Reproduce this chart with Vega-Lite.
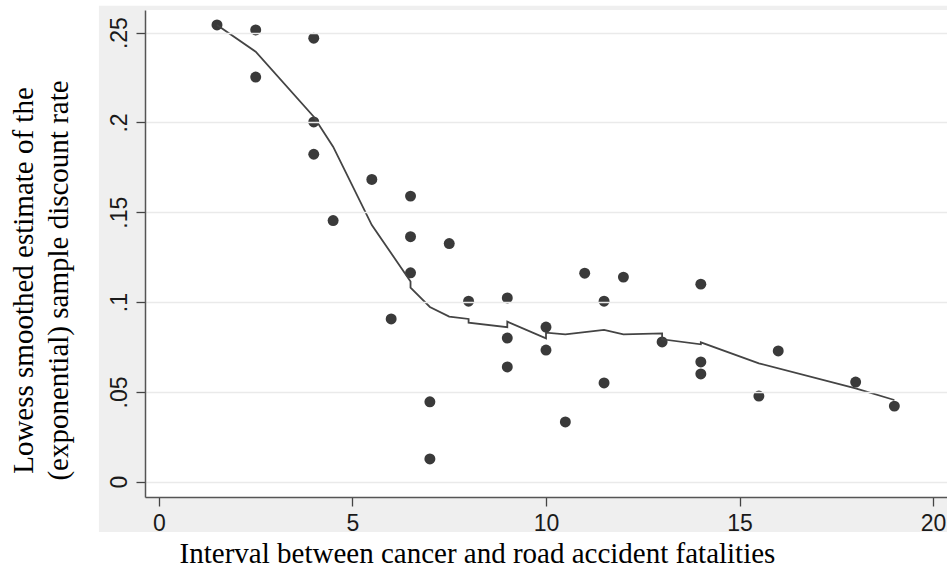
{
  "$schema": "https://vega.github.io/schema/vega-lite/v6.json",
  "width": 802,
  "height": 487,
  "autosize": {"type": "none"},
  "padding": {"left": 145, "top": 10, "right": 0, "bottom": 79},
  "background": "white",
  "config": {"view": {"stroke": null, "fill": "white"}},
  "datasets": {
    "pts": [
      {"interval": 1.5, "rate": 0.2543},
      {"interval": 2.5, "rate": 0.2515},
      {"interval": 2.5, "rate": 0.2253},
      {"interval": 4.0, "rate": 0.2469},
      {"interval": 4.0, "rate": 0.2003},
      {"interval": 4.0, "rate": 0.1823},
      {"interval": 4.5, "rate": 0.1454},
      {"interval": 5.5, "rate": 0.1683},
      {"interval": 6.0, "rate": 0.0906},
      {"interval": 6.5, "rate": 0.159},
      {"interval": 6.5, "rate": 0.1364},
      {"interval": 6.5, "rate": 0.1163},
      {"interval": 7.0, "rate": 0.0445},
      {"interval": 7.0, "rate": 0.0127},
      {"interval": 7.5, "rate": 0.1326},
      {"interval": 8.0, "rate": 0.1005},
      {"interval": 9.0, "rate": 0.1023},
      {"interval": 9.0, "rate": 0.080},
      {"interval": 9.0, "rate": 0.0639},
      {"interval": 10.0, "rate": 0.0861},
      {"interval": 10.0, "rate": 0.0733},
      {"interval": 10.5, "rate": 0.0333},
      {"interval": 11.0, "rate": 0.1161},
      {"interval": 11.5, "rate": 0.1005},
      {"interval": 11.5, "rate": 0.055},
      {"interval": 12.0, "rate": 0.1139},
      {"interval": 13.0, "rate": 0.0778},
      {"interval": 14.0, "rate": 0.110},
      {"interval": 14.0, "rate": 0.0667},
      {"interval": 14.0, "rate": 0.060},
      {"interval": 15.5, "rate": 0.0477},
      {"interval": 16.0, "rate": 0.0728},
      {"interval": 18.0, "rate": 0.0555},
      {"interval": 19.0, "rate": 0.0421}
    ],
    "smooth": [
      {"ord": 1, "interval": 1.5, "fit": 0.2543},
      {"ord": 2, "interval": 2.5, "fit": 0.2394},
      {"ord": 3, "interval": 4.0, "fit": 0.2032},
      {"ord": 4, "interval": 4.5, "fit": 0.1865},
      {"ord": 5, "interval": 5.5, "fit": 0.1429},
      {"ord": 6, "interval": 6.5, "fit": 0.1115},
      {"ord": 7, "interval": 6.5, "fit": 0.108},
      {"ord": 8, "interval": 7.0, "fit": 0.0973},
      {"ord": 9, "interval": 7.5, "fit": 0.0919},
      {"ord": 10, "interval": 8.0, "fit": 0.0906},
      {"ord": 11, "interval": 8.0, "fit": 0.0885},
      {"ord": 12, "interval": 9.0, "fit": 0.086},
      {"ord": 13, "interval": 9.0, "fit": 0.0891},
      {"ord": 14, "interval": 10.0, "fit": 0.0798},
      {"ord": 15, "interval": 10.0, "fit": 0.083},
      {"ord": 16, "interval": 10.5, "fit": 0.082},
      {"ord": 17, "interval": 11.5, "fit": 0.0845},
      {"ord": 18, "interval": 12.0, "fit": 0.082},
      {"ord": 19, "interval": 13.0, "fit": 0.0826},
      {"ord": 20, "interval": 13.0, "fit": 0.0793},
      {"ord": 21, "interval": 14.0, "fit": 0.0765},
      {"ord": 22, "interval": 14.0, "fit": 0.0776},
      {"ord": 23, "interval": 15.5, "fit": 0.0659},
      {"ord": 24, "interval": 18.0, "fit": 0.052},
      {"ord": 25, "interval": 19.0, "fit": 0.0455}
    ]
  },
  "layer": [
    {
      "data": {"values": [{}]},
      "mark": {"type": "rect", "clip": false, "fill": "#efefef", "strokeWidth": 0},
      "encoding": {
        "x": {"datum": -1.55, "type": "quantitative", "scale": {"domain": [-0.36, 20.36], "nice": false, "zero": false}},
        "x2": {"datum": -0.36},
        "y": {"datum": -0.028, "type": "quantitative", "scale": {"domain": [-0.0085, 0.2626], "nice": false, "zero": false}},
        "y2": {"datum": 0.2649}
      }
    },
    {
      "data": {"values": [{}]},
      "mark": {"type": "rect", "clip": false, "fill": "#efefef", "strokeWidth": 0},
      "encoding": {
        "x": {"datum": -0.36, "type": "quantitative"},
        "x2": {"datum": 21},
        "y": {"datum": -0.028, "type": "quantitative"},
        "y2": {"datum": -0.0085}
      }
    },
    {
      "data": {"values": [{}]},
      "mark": {"type": "rect", "clip": false, "fill": "#efefef", "strokeWidth": 0},
      "encoding": {
        "x": {"datum": -0.36, "type": "quantitative"},
        "x2": {"datum": 21},
        "y": {"datum": 0.2626, "type": "quantitative"},
        "y2": {"datum": 0.2649}
      }
    },
    {
      "data": {"name": "pts"},
      "mark": {"type": "circle", "size": 120, "color": "#3a3a3a", "opacity": 1},
      "encoding": {
        "x": {
          "field": "interval", "type": "quantitative",
          "scale": {"domain": [-0.36, 20.36], "nice": false, "zero": false},
          "axis": {
            "values": [0, 5, 10, 15, 20],
            "grid": false,
            "zindex": 1,
            "title": "Interval between cancer and road accident fatalities",
            "titleFont": "Liberation Serif", "titleFontSize": 29, "titleFontWeight": "normal", "titleColor": "#000000",
            "titleX": 332, "titleY": 65, "titleAlign": "center", "titleBaseline": "alphabetic", "titleAnchor": null,
            "labelFont": "Liberation Sans", "labelFontSize": 23, "labelColor": "#1a1a1a", "labelPadding": 6,
            "tickSize": 9, "tickColor": "#444444", "tickWidth": 1.3,
            "domainColor": "#555555", "domainWidth": 1.5
          }
        },
        "y": {
          "field": "rate", "type": "quantitative",
          "scale": {"domain": [-0.0085, 0.2626], "nice": false, "zero": false},
          "axis": {
            "values": [0, 0.05, 0.1, 0.15, 0.2, 0.25],
            "labelExpr": "datum.value == 0 ? '0' : replace(format(datum.value, '.2~f'), '0.', '.')",
            "grid": true, "gridColor": "#eaeaea", "gridWidth": 1.5,
            "zindex": 1,
            "title": ["Lowess smoothed estimate of the", "(exponential) sample discount rate"],
            "titleFont": "Liberation Serif", "titleFontSize": 29, "titleFontWeight": "normal", "titleColor": "#000000",
            "titleAngle": -90, "titleX": -136, "titleY": 270, "titleAlign": "center", "titleBaseline": "top", "titleLineHeight": 35, "titleAnchor": null,
            "labelFont": "Liberation Sans", "labelFontSize": 23, "labelColor": "#1a1a1a", "labelAngle": -90, "labelPadding": 5,
            "labelAlign": "center", "labelBaseline": "bottom",
            "tickSize": 9, "tickColor": "#444444", "tickWidth": 1.3,
            "domainColor": "#555555", "domainWidth": 1.5
          }
        }
      }
    },
    {
      "data": {"name": "smooth"},
      "mark": {"type": "line", "color": "#444444", "strokeWidth": 1.8},
      "encoding": {
        "x": {"field": "interval", "type": "quantitative"},
        "y": {"field": "fit", "type": "quantitative"},
        "order": {"field": "ord", "type": "quantitative"}
      }
    }
  ]
}
